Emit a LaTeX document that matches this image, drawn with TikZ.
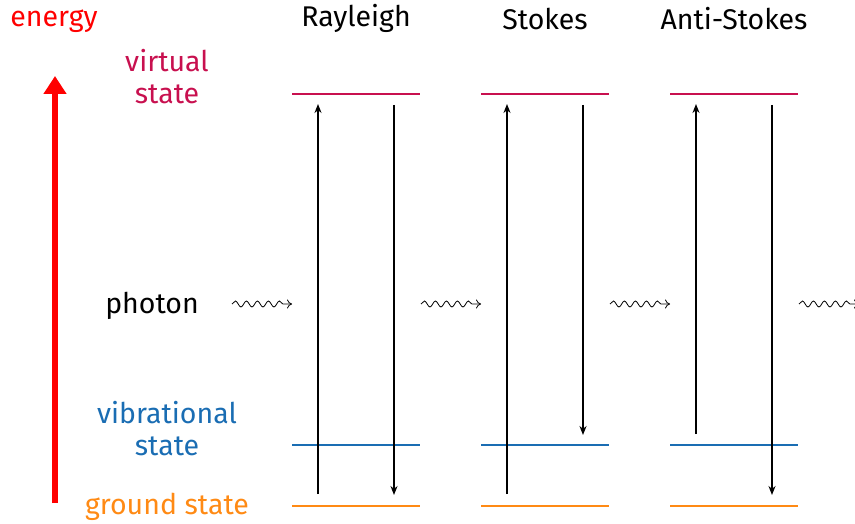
\documentclass[tikz,border=0pt]{standalone}
\usepackage{fontspec}
\setmainfont{Fira Sans}
\usetikzlibrary{arrows.meta,decorations.pathmorphing}

\definecolor{virtualc}{HTML}{C8104F}
\definecolor{vibc}{HTML}{1A6DB3}
\definecolor{groundc}{HTML}{FF8A14}
\definecolor{energyc}{HTML}{FF0000}

\tikzset{
  lbl/.style={font=\fontsize{28.5}{33}\selectfont, anchor=base, inner sep=0pt},
  level/.style={line width=2pt},
  trans/.style={line width=1.6pt, -{Stealth[length=9pt,width=7pt]}},
  wave/.style={line width=0.8pt, -{To[length=5pt,width=9pt]},
    decorate, decoration={snake, segment length=11pt, amplitude=3pt, post length=9pt}},
}

\begin{document}
\begin{tikzpicture}[x=1pt,y=-1pt]
  \useasboundingbox (0,0) rectangle (855,524);

  % energy axis
  \node[lbl, text=energyc] (energy) at (54,27) {energy};
  \coordinate (ebot) at (55,503);
  \coordinate (etop) at (55,76);
  \draw[energyc, line width=6pt, -{Triangle[length=18pt,width=22pt]}] (ebot) -- (etop);

  % left-hand labels
  \node[lbl, text=virtualc] (lvirt1) at (167,72) {virtual};
  \node[lbl, text=virtualc] (lvirt2) at (167,104) {state};
  \node[lbl] (lphot) at (152,313) {photon};
  \node[lbl, text=vibc] (lvib1) at (167,423) {vibrational};
  \node[lbl, text=vibc] (lvib2) at (167,455) {state};
  \node[lbl, text=groundc] (lgnd) at (167,514) {ground state};

  % column titles
  \node[lbl] (tray) at (356,27) {Rayleigh};
  \node[lbl] (tsto) at (545,30) {Stokes};
  \node[lbl] (tanti) at (734,30) {Anti-Stokes};

  % energy levels of each process
  \foreach \n/\xa in {r/292, s/481, a/670}{
    \coordinate (\n vl) at (\xa,94);
    \coordinate (\n vr) at (\xa+128,94);
    \coordinate (\n bl) at (\xa,445);
    \coordinate (\n br) at (\xa+128,445);
    \coordinate (\n gl) at (\xa,506);
    \coordinate (\n gr) at (\xa+128,506);
    \draw[level, virtualc] (\n vl) -- (\n vr);
    \draw[level, vibc] (\n bl) -- (\n br);
    \draw[level, groundc] (\n gl) -- (\n gr);
  }

  % transitions
  \coordinate (r1a) at (318,494); \coordinate (r1b) at (318,104);
  \coordinate (r2a) at (394,105); \coordinate (r2b) at (394,495);
  \coordinate (s1a) at (507,494); \coordinate (s1b) at (507,104);
  \coordinate (s2a) at (583,105); \coordinate (s2b) at (583,435);
  \coordinate (a1a) at (696,434); \coordinate (a1b) at (696,104);
  \coordinate (a2a) at (772,105); \coordinate (a2b) at (772,495);
  \foreach \p/\q in {r1a/r1b, r2a/r2b, s1a/s1b, s2a/s2b, a1a/a1b, a2a/a2b}
    \draw[trans] (\p) -- (\q);

  % incoming and scattered photons
  \coordinate (w0a) at (232,304); \coordinate (w0b) at (292,304);
  \coordinate (w1a) at (421,304); \coordinate (w1b) at (481,304);
  \coordinate (w2a) at (610,304); \coordinate (w2b) at (670,304);
  \coordinate (w3a) at (799,304); \coordinate (w3b) at (859,304);
  \foreach \p/\q in {w0a/w0b, w1a/w1b, w2a/w2b, w3a/w3b}
    \draw[wave] (\p) -- (\q);
\end{tikzpicture}
\end{document}
